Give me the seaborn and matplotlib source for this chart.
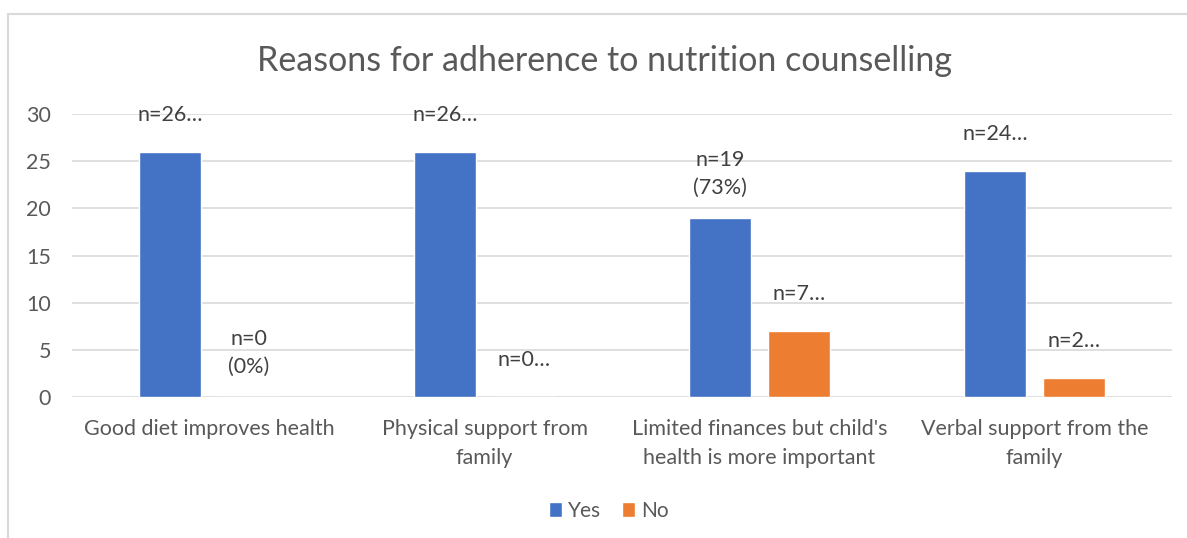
import matplotlib
matplotlib.use("Agg")
import matplotlib.pyplot as plt
import seaborn as sns
import pandas as pd
from matplotlib.patches import Rectangle

# ---- data ----
categories = [
    "Good diet improves health",
    "Physical support from\nfamily",
    "Limited finances but child's\nhealth is more important",
    "Verbal support from the\nfamily",
]
series = ["Yes", "No"]
yes_values = [26, 26, 19, 24]
no_values = [0, 0, 7, 2]
yes_labels = ["n=26…", "n=26…", "n=19\n(73%)", "n=24…"]
no_labels = ["n=0\n(0%)", "n=0…", "n=7…", "n=2…"]
y_ticks = [0, 5, 10, 15, 20, 25, 30]
title = "Reasons for adherence to nutrition counselling"

df = pd.DataFrame({
    "category": categories * 2,
    "response": [series[0]] * len(categories) + [series[1]] * len(categories),
    "count": yes_values + no_values,
})

sns.set_theme(style="white")
plt.rcParams['font.family'] = ['Lato', 'DejaVu Sans']

TEXT = "#595959"
GRID = "#D9D9D9"

fig = plt.figure(figsize=(11.87, 5.38), dpi=100)
ax = fig.add_axes([72 / 1187, 1 - 397 / 538, 1100 / 1187, (397 - 114) / 538])

sns.barplot(data=df, x="category", y="count", hue="response", hue_order=series,
            palette={"Yes": "#4472C4", "No": "#ED7D31"}, width=0.575, gap=0.215,
            saturation=1, ax=ax)

ax.set_ylim(0, 30)
ax.set_yticks(y_ticks)
ax.set_xlabel("")
ax.set_ylabel("")
ax.yaxis.grid(True, color=GRID, linewidth=1.2)
ax.set_axisbelow(True)
for s in ax.spines.values():
    s.set_visible(False)
ax.tick_params(axis="y", length=0, pad=15, labelsize=15.5, labelcolor=TEXT)
ax.tick_params(axis="x", length=0, pad=16, labelsize=15.5, labelcolor=TEXT)
for lab in ax.get_xticklabels():
    lab.set_linespacing(1.55)

# data labels
for cont, labs in zip(ax.containers, [yes_labels, no_labels]):
    for bar, lab in zip(cont, labs):
        x = bar.get_x() + bar.get_width() / 2
        h = bar.get_height()
        nlines = lab.count("\n") + 1
        off_px = 37 if nlines == 1 else 44
        ax.annotate(lab, (x, h), xytext=(0, off_px * 0.72), textcoords="offset points",
                    ha="center", va="center", fontsize=15.5, color="#404040",
                    linespacing=1.45)

# legend
handles, labels = ax.get_legend_handles_labels()
ax.get_legend().remove()
fig.legend(handles, labels, loc="center", bbox_to_anchor=(609 / 1187, 1 - 511 / 538),
           ncol=2, frameon=False, handlelength=0.6, handleheight=0.75,
           handletextpad=0.3, columnspacing=1.0, fontsize=15, labelcolor=TEXT)

fig.text(605 / 1187, 1 - 61 / 538, title, ha="center", va="center",
         fontsize=24.5, color=TEXT)

fig.add_artist(Rectangle((8 / 1187, -0.5), 2, 0.5 + 1 - 14 / 538, transform=fig.transFigure,
                         fill=False, edgecolor=GRID, linewidth=1.5))

fig.savefig("out.png", dpi=100, facecolor="white")
